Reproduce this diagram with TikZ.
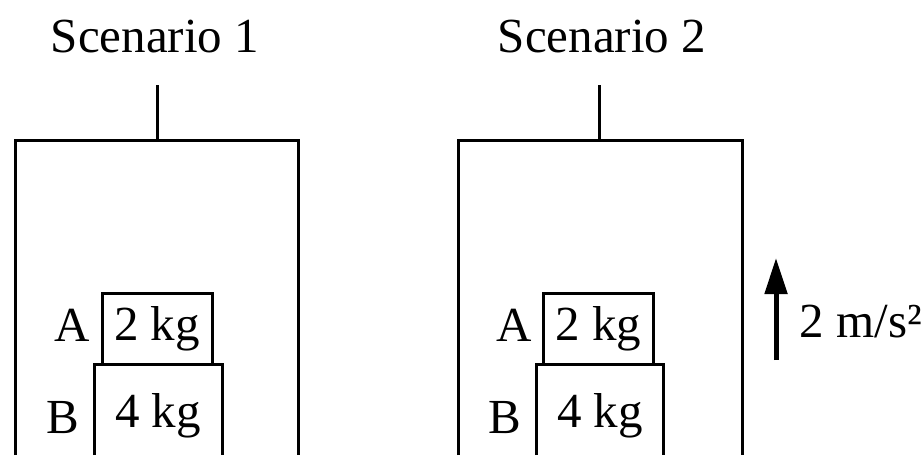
\documentclass[tikz,border=0pt]{standalone}
\usepackage{fontspec}
\setmainfont{Liberation Serif}
\usetikzlibrary{arrows.meta}
\begin{document}
\begin{tikzpicture}[x=0.5pt,y=-0.5pt,line width=1.5pt,
    txt/.style={font=\fontsize{24.5}{28}\selectfont,inner sep=0pt},
    massA/.style={draw,txt,minimum width=55pt,minimum height=35.5pt}]
\useasboundingbox (0,0) rectangle (924,455);
% scenario 1
\node[txt,anchor=base] (t1) at (155,52) {Scenario 1};
\coordinate (h1) at (157,85);
\coordinate (r1) at (157,140);
\draw (15,455) |- (298,140) -- (298,455);
\draw (h1) -- (r1);
\node[massA] (A1) at (157,328.5) {2 kg};
\draw (94,455) |- (222,364) -- (222,455);
\node[txt,anchor=base] (m1) at (158,427) {4 kg};
\node[txt,anchor=base] (a1) at (72,341) {A};
\node[txt,anchor=base] (b1) at (63,433) {B};
% scenario 2
\node[txt,anchor=base] (t2) at (602,52) {Scenario 2};
\coordinate (h2) at (599,85);
\coordinate (r2) at (599,140);
\draw (458,455) |- (742,140) -- (742,455);
\draw (h2) -- (r2);
\node[massA] (A2) at (598.5,328.5) {2 kg};
\draw (536,455) |- (663,364) -- (663,455);
\node[txt,anchor=base] (m2) at (600,427) {4 kg};
\node[txt,anchor=base] (a2) at (514,341) {A};
\node[txt,anchor=base] (b2) at (505,433) {B};
% acceleration
\coordinate (u0) at (776,360);
\coordinate (u1) at (776,258);
\draw[line width=2.5pt,-{Triangle[length=18pt,width=11pt]}] (u0) -- (u1);
\node[txt,anchor=base west] (acc) at (798,337) {2 m/s²};
\end{tikzpicture}
\end{document}
